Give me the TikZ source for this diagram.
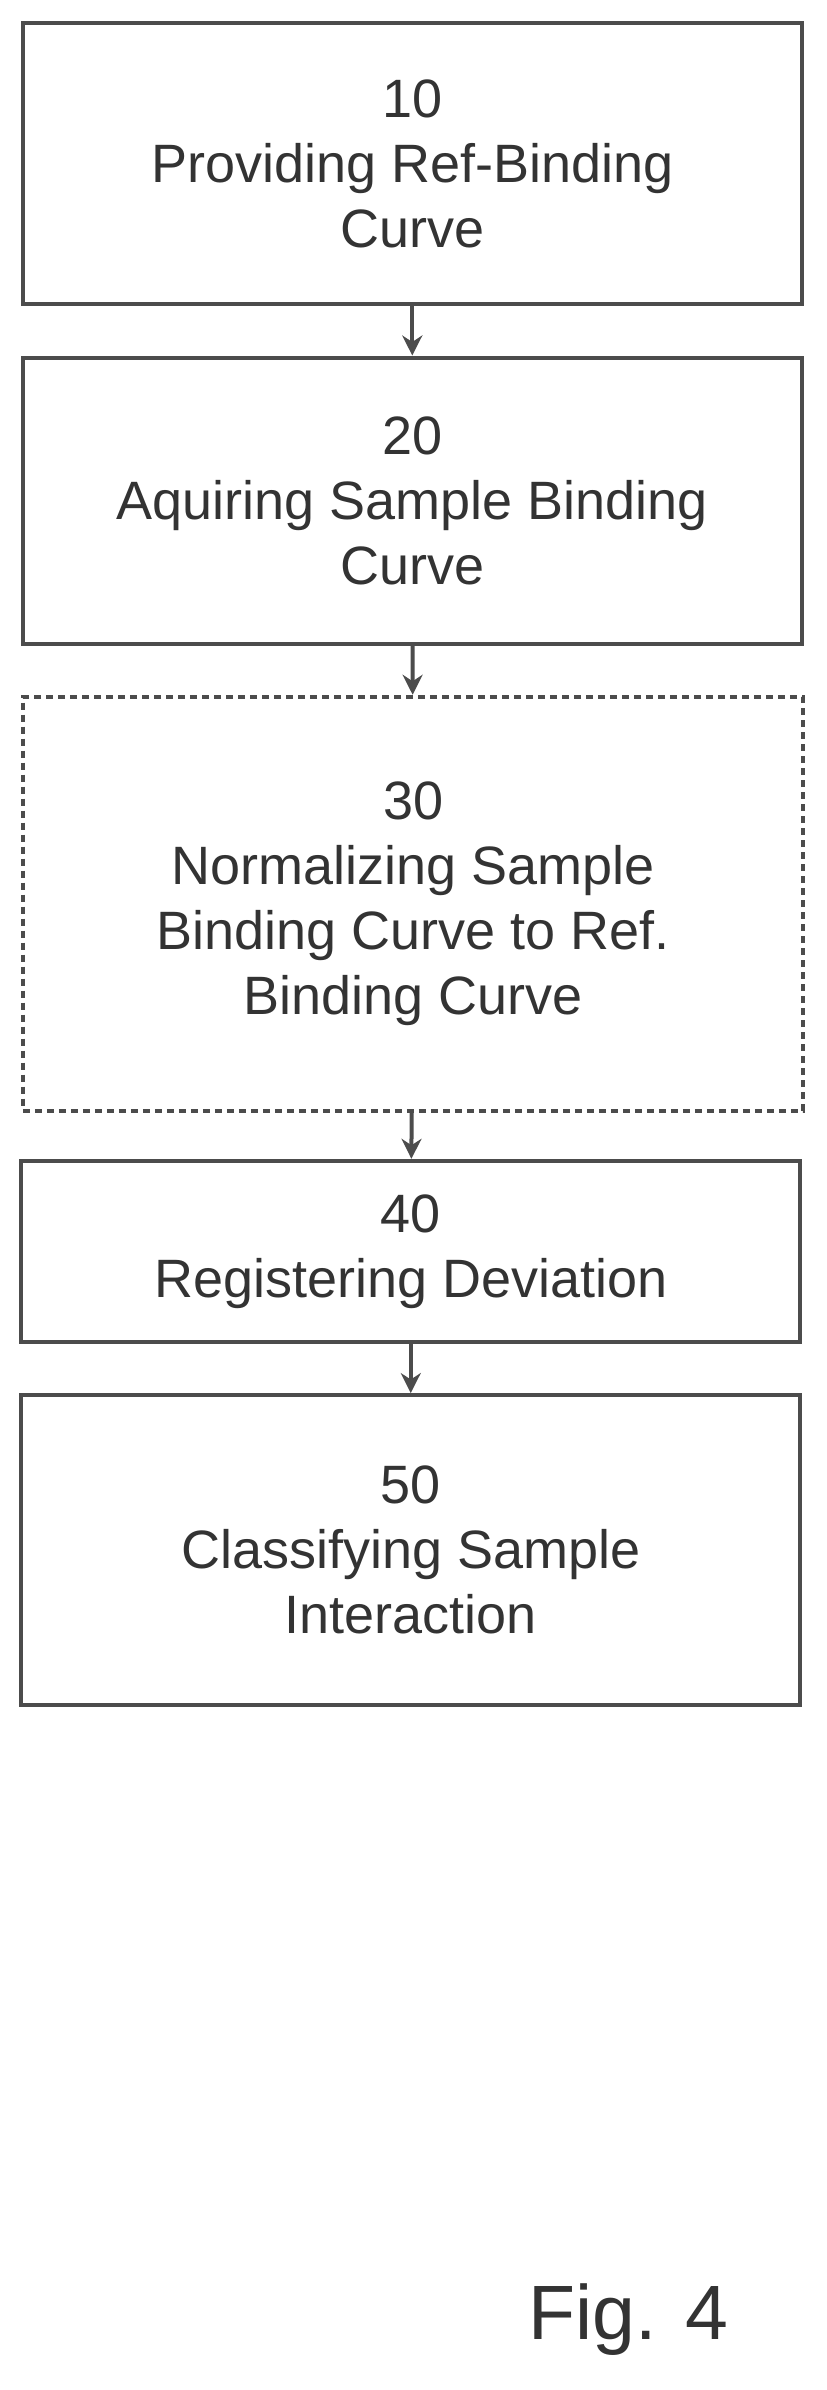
\documentclass[tikz,border=0pt]{standalone}
\usepackage{fontspec}
\setmainfont{Liberation Sans}
\usetikzlibrary{arrows.meta}
\begin{document}
\begin{tikzpicture}[x=1.521pt,y=-1.521pt,
  stepbox/.style={draw=black!70,line width=4pt,minimum width=512*1.521pt,align=center,
    font=\fontsize{54}{65}\selectfont,text=black!80,inner sep=0pt},
  conn/.style={draw=black!70,line width=4pt,-{Stealth[length=20pt,width=20pt]}}]
\useasboundingbox (0,0) rectangle (543,1571);
\node[stepbox,minimum height=185*1.521pt] (a) at (271,107.5) {10\\Providing Ref-Binding\\Curve};
\node[stepbox,minimum height=188*1.521pt] (b) at (271,329) {20\\Aquiring Sample Binding\\Curve};
\node[stepbox,dash pattern=on 7pt off 5pt,minimum height=272*1.521pt,minimum width=513*1.521pt] (c) at (271.5,594) {30\\Normalizing Sample\\Binding Curve to Ref.\\Binding Curve};
\node[stepbox,minimum height=119*1.521pt] (d) at (270,822.5) {40\\Registering Deviation};
\node[stepbox,minimum height=204*1.521pt] (e) at (270,1019) {50\\Classifying Sample\\Interaction};
\draw[conn] (a) -- (b);
\draw[conn] (b) -- (c);
\draw[conn] (c) -- (d);
\draw[conn] (d) -- (e);
\node[font=\fontsize{77}{80}\selectfont,text=black!80] (f) at (413,1525) {Fig. 4};
\end{tikzpicture}
\end{document}
